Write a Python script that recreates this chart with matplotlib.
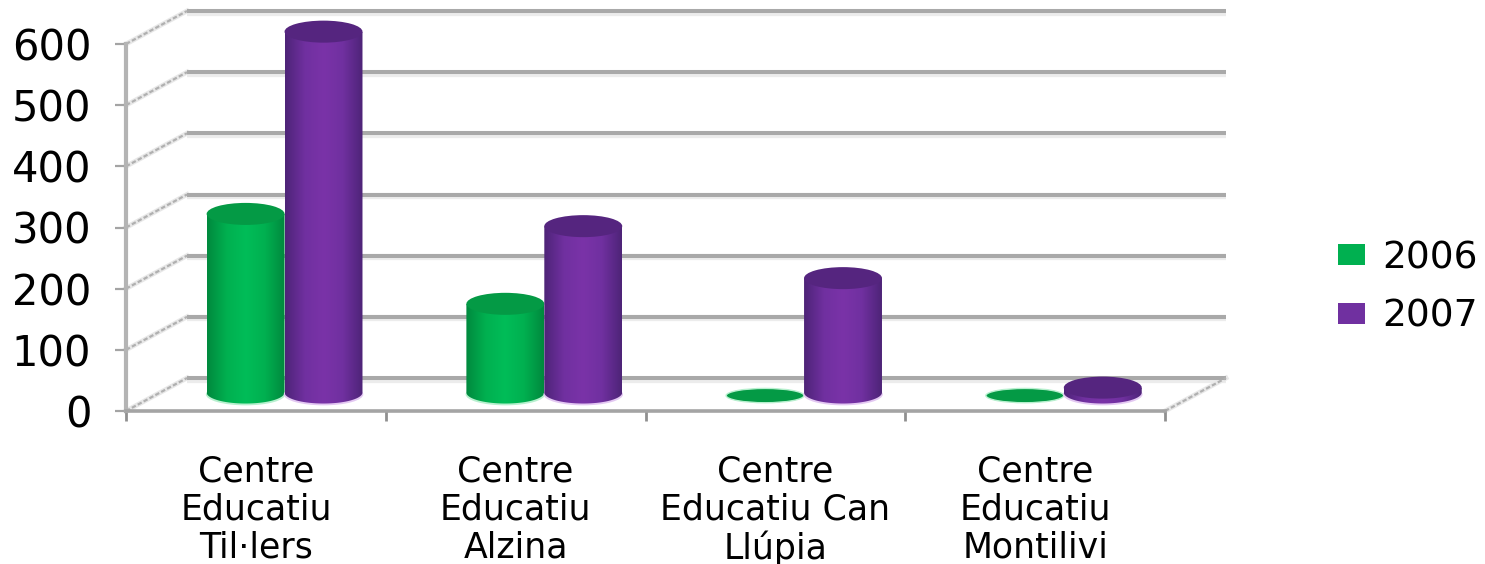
import numpy as np
import matplotlib
matplotlib.use("Agg")
import matplotlib.pyplot as plt
from matplotlib.colors import LinearSegmentedColormap
from matplotlib.patches import Ellipse, Patch
from matplotlib.path import Path

categories = ["Centre\nEducatiu\nTil·lers", "Centre\nEducatiu\nAlzina",
              "Centre\nEducatiu Can\nLlúpia", "Centre\nEducatiu\nMontilivi"]
years = ["2006", "2007"]
values_2006 = [292, 145, 3, 3]
values_2007 = [590, 272, 187, 8]
y_ticks = [0, 100, 200, 300, 400, 500, 600]

green = "#00b050"
purple = "#7030a0"

plt.rcParams["font.family"] = "DejaVu Sans"

W, H = 1485, 564
fig = plt.figure(figsize=(W / 100, H / 100), dpi=100)
ax = fig.add_axes([126 / W, (H - 411) / H, 1039 / W, 367 / H])
ax.set_xlim(-0.5, 3.5)
ax.set_ylim(0, 600)

# depth of the fake 3d box, in data units
dx = 61 / 259.75
dy = 33 / 0.6117
bar_w = 0.30
ry = 18


def grid_lines():
    for v in y_ticks:
        y = v + dy
        ax.plot([-0.5 + dx, 3.5 + dx], [y - 2.5, y - 2.5], color="#ececec", lw=4.5,
                clip_on=False, zorder=1, solid_capstyle="butt")
        ax.plot([-0.5 + dx, 3.5 + dx], [y, y], color="#a9a9a9", lw=2.9,
                clip_on=False, zorder=1.1, solid_capstyle="butt")
        ax.plot([-0.5, -0.5 + dx], [v, y], color="#e8e8e8", lw=3.5,
                clip_on=False, zorder=1)
        ax.plot([-0.5, -0.5 + dx], [v, y], color="#b0b0b0", lw=1.6, ls=(0, (2, 1)),
                clip_on=False, zorder=1.1)
    ax.plot([3.5, 3.5 + dx], [0, dy], color="#e8e8e8", lw=3.5, clip_on=False, zorder=1)
    ax.plot([3.5, 3.5 + dx], [0, dy], color="#b0b0b0", lw=1.6, ls=(0, (2, 1)),
            clip_on=False, zorder=1.1)


def cylinder(x, value, base, dark, light, top, halo, z):
    left, right = x - bar_w / 2, x + bar_w / 2
    y0 = dy * 0.56
    if value < 5:
        # nearly empty bars are just a flat disc on the floor
        ax.add_patch(Ellipse((x, y0 - 5), bar_w, ry * 1.3, fc=top, ec=halo, lw=1,
                             clip_on=False, zorder=z))
        return
    ax.add_patch(Ellipse((x, y0 - 3), bar_w * 1.02, ry * 2, color=halo, clip_on=False,
                         zorder=z, lw=0))
    cmap = LinearSegmentedColormap.from_list("c", [dark, base, light, base, dark])
    im = ax.imshow(np.linspace(0, 1, 64)[None, :], extent=[left, right, y0 - ry, y0 + value],
                   cmap=cmap, aspect="auto", zorder=z + 0.1, interpolation="bilinear")
    t = np.linspace(np.pi, 2 * np.pi, 40)
    xs = x + np.cos(t) * bar_w / 2
    ys = y0 + np.sin(t) * ry
    verts = list(zip(xs, ys)) + [(right, y0 + value), (left, y0 + value), (xs[0], ys[0])]
    im.set_clip_path(Path(verts), transform=ax.transData)
    im.set_clip_box(fig.bbox)
    ax.add_patch(Ellipse((x, y0 + value), bar_w, ry * 2, color=top, clip_on=False,
                         zorder=z + 0.2, lw=0))


grid_lines()

for i, v in enumerate(values_2006):
    cylinder(i + dx / 2 - bar_w / 2 - 0.007, v, green, "#008a3e", "#00bd58", "#049a45", "#b8f0cf", 2)
for i, v in enumerate(values_2007):
    cylinder(i + dx / 2 + bar_w / 2 - 0.007, v, purple, "#4e2478", "#7a33a8", "#55257f", "#e3c8f2", 3)

ax.set_xlim(-0.5, 3.5)
ax.set_ylim(0, 600)

for s in ["top", "right"]:
    ax.spines[s].set_visible(False)
ax.spines["left"].set_color("#b4b4b4")
ax.spines["left"].set_linewidth(3)
ax.spines["bottom"].set_color("#a4a4a4")
ax.spines["bottom"].set_linewidth(2.6)
ax.set_yticks(y_ticks)
ax.set_yticklabels([str(v) for v in y_ticks], fontsize=30, color="black")
ax.tick_params(axis="y", length=8, width=1.6, color="#a4a4a4", pad=17)
ax.set_xticks(np.arange(-0.5, 4.0, 1.0))
ax.set_xticklabels([])
ax.tick_params(axis="x", which="major", length=7.5, width=2, color="#909090")
ax.set_xticks(np.arange(4), minor=True)
ax.set_xticklabels(categories, minor=True, fontsize=25, color="black", linespacing=1.16)
ax.tick_params(axis="x", which="minor", length=0, pad=31)

handles = [Patch(facecolor=green, label=years[0]), Patch(facecolor=purple, label=years[1])]
ax.legend(handles=handles, loc="center left", bbox_to_anchor=(1.1665, 0.337),
          frameon=False, fontsize=27, handlelength=0.72, handleheight=0.5,
          handletextpad=0.45, labelspacing=0.6, borderaxespad=0, borderpad=0)

fig.savefig("out.png", dpi=100)
plt.close(fig)
